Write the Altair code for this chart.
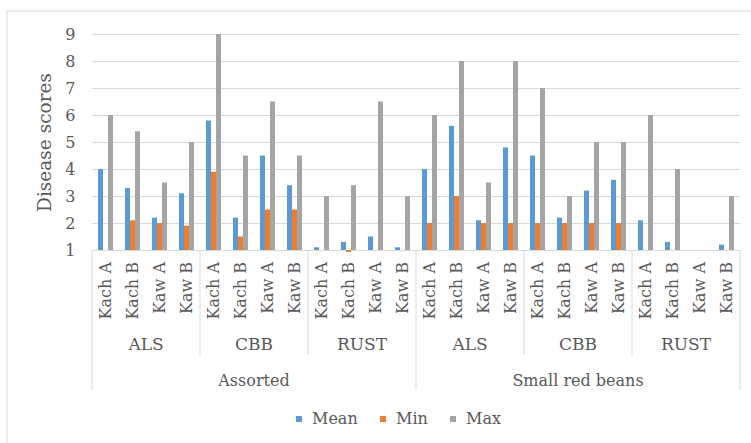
import altair as alt
import pandas as pd

# Category hierarchy (outer -> inner) and series
groups = ["Assorted", "Small red beans"]
diseases = ["ALS", "CBB", "RUST"]
sites = ["Kach A", "Kach B", "Kaw A", "Kaw B"]
series = ["Mean", "Min", "Max"]
colors = ["#5B9BD5", "#ED7D31", "#A5A5A5"]
y_ticks = [1, 2, 3, 4, 5, 6, 7, 8, 9]

# Scores per site, in group / disease / site order
mean_scores = [4.0, 3.3, 2.2, 3.1, 5.8, 2.2, 4.5, 3.4, 1.1, 1.3, 1.5, 1.1,
               4.0, 5.6, 2.1, 4.8, 4.5, 2.2, 3.2, 3.6, 2.1, 1.3, 1.0, 1.2]
min_scores = [1.0, 2.1, 2.0, 1.9, 3.9, 1.5, 2.5, 2.5, 1.0, 0.93, 1.0, 1.0,
              2.0, 3.0, 2.0, 2.0, 2.0, 2.0, 2.0, 2.0, 1.0, 1.0, 1.0, 1.0]
max_scores = [6.0, 5.4, 3.5, 5.0, 9.0, 4.5, 6.5, 4.5, 3.0, 3.4, 6.5, 3.0,
              6.0, 8.0, 3.5, 8.0, 7.0, 3.0, 5.0, 5.0, 6.0, 4.0, 1.0, 3.0]

FONT = "DejaVu Serif"
TEXT = "#595959"
LINE = "#D9D9D9"

# Long table for the bars
rows = []
keys = []
site_rows = []
i = 0
for g in groups:
    for d in diseases:
        for s in sites:
            key = f"{g}|{d}|{s}"
            keys.append(key)
            site_rows.append({"pos": i + 0.5, "label": s})
            for name, vals in zip(series, [mean_scores, min_scores, max_scores]):
                rows.append({"key": key, "series": name, "score": vals[i]})
            i += 1
bar_df = pd.DataFrame(rows)
n = len(keys)

disease_df = pd.DataFrame([
    {"pos": (gi * len(diseases) + di) * len(sites) + len(sites) / 2, "label": d}
    for gi, _ in enumerate(groups) for di, d in enumerate(diseases)
])
group_df = pd.DataFrame([
    {"pos": gi * len(diseases) * len(sites) + len(diseases) * len(sites) / 2, "label": g}
    for gi, g in enumerate(groups)
])
inner_sep = pd.DataFrame({"pos": [k * len(sites) for k in range(1, n // len(sites))
                                  if (k * len(sites)) % (len(diseases) * len(sites)) != 0]})
outer_sep = pd.DataFrame({"pos": [k * len(diseases) * len(sites) for k in range(len(groups) + 1)]})

slot = alt.Scale(domain=[0, n], nice=False, zero=False)

border = alt.Chart(pd.DataFrame({"a": [0]})).mark_rect(
    fill="white", fillOpacity=0, stroke=LINE, strokeWidth=1
).encode(x=alt.value(-85), x2=alt.value(700), y=alt.value(-23), y2=alt.value(430))

bars = alt.Chart(bar_df).mark_bar().encode(
    x=alt.X("key:N", sort=keys, axis=None,
            scale=alt.Scale(paddingInner=0.444, paddingOuter=0.222)),
    xOffset=alt.XOffset("series:N", sort=series,
                        scale=alt.Scale(domain=series, paddingInner=0, paddingOuter=0)),
    y=alt.Y("score:Q", scale=alt.Scale(domain=[1, 9], nice=False, zero=False),
            axis=alt.Axis(values=y_ticks, title="Disease scores", grid=True,
                          gridColor=LINE, domain=False, ticks=False,
                          labelFont=FONT, labelFontSize=16, labelColor=TEXT,
                          labelPadding=17, titleFont=FONT, titleFontSize=18.5,
                          titleFontWeight="normal", titleColor=TEXT, titlePadding=10)),
    y2=alt.datum(1),
    color=alt.Color("series:N", sort=series,
                    scale=alt.Scale(domain=series, range=colors),
                    legend=alt.Legend(title=None, orient="none", direction="horizontal",
                                      legendX=199, legendY=377, symbolType="square",
                                      symbolSize=36, symbolStrokeWidth=0,
                                      labelFont=FONT, labelFontSize=16, labelColor=TEXT,
                                      labelOffset=5, columnPadding=17)),
)

site_text = alt.Chart(pd.DataFrame(site_rows)).mark_text(
    angle=270, align="right", baseline="middle", font=FONT, fontSize=16, color=TEXT
).encode(x=alt.X("pos:Q", scale=slot, axis=None), y=alt.value(228), text="label:N")

disease_text = alt.Chart(disease_df).mark_text(
    align="center", baseline="middle", font=FONT, fontSize=17, color=TEXT
).encode(x=alt.X("pos:Q", scale=slot, axis=None), y=alt.value(311), text="label:N")

group_text = alt.Chart(group_df).mark_text(
    align="center", baseline="middle", font=FONT, fontSize=16, color=TEXT
).encode(x=alt.X("pos:Q", scale=slot, axis=None), y=alt.value(347), text="label:N")

inner_rules = alt.Chart(inner_sep).mark_rule(color=LINE, strokeWidth=1).encode(
    x=alt.X("pos:Q", scale=slot, axis=None), y=alt.value(216), y2=alt.value(321))
outer_rules = alt.Chart(outer_sep).mark_rule(color=LINE, strokeWidth=1).encode(
    x=alt.X("pos:Q", scale=slot, axis=None), y=alt.value(216), y2=alt.value(356))

chart = alt.layer(
    border, bars, inner_rules, outer_rules, site_text, disease_text, group_text
).resolve_scale(x="independent").properties(
    width=648, height=216,
    autosize=alt.AutoSizeParams(type="none"),
    padding={"left": 92, "top": 34, "right": 11, "bottom": 193},
    background="white",
).configure_view(stroke=None)

chart.save("out.html", embed_options={"renderer": "svg", "actions": False})
